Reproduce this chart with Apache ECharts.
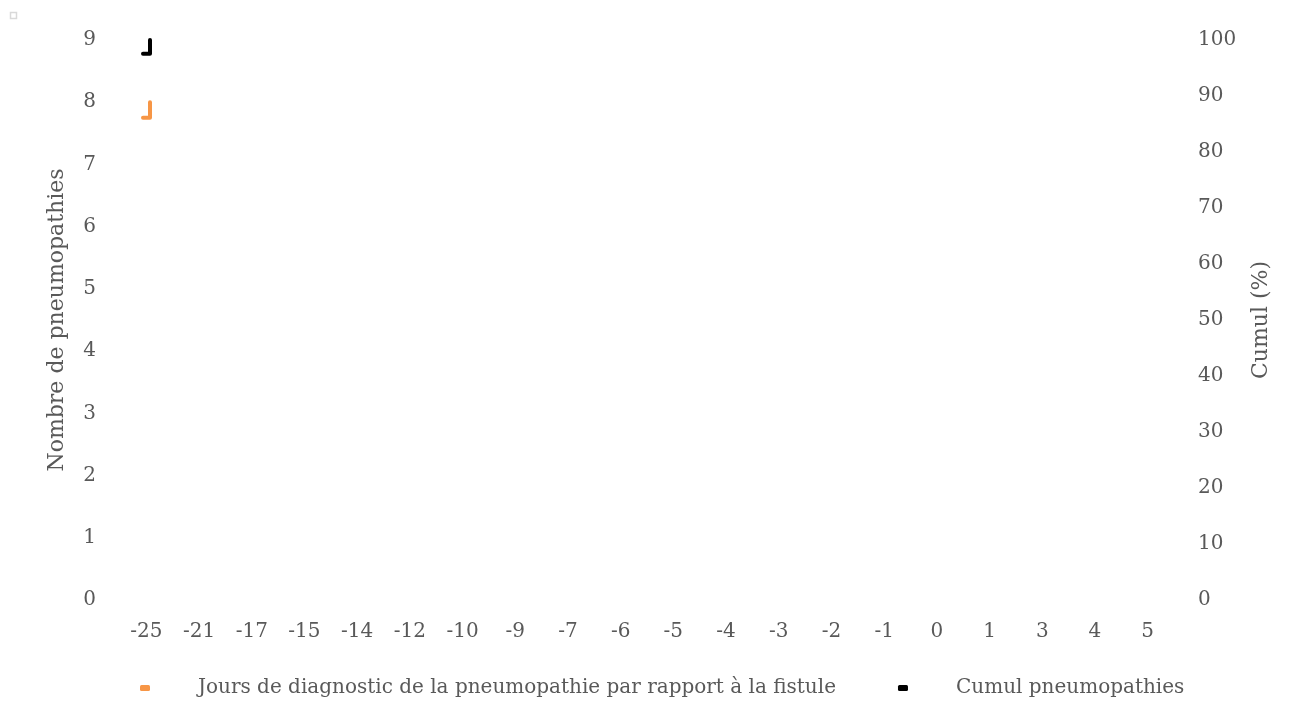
<!DOCTYPE html>
<html>
<head>
<meta charset="utf-8">
<script src="https://cdn.jsdelivr.net/npm/echarts@6/dist/echarts.min.js"></script>
<style>html,body{margin:0;padding:0;background:#fff;}#c{width:1294px;height:702px;}</style>
</head>
<body>
<div id="c"></div>
<script>
var categories = ['-25','-21','-17','-15','-14','-12','-10','-9','-7','-6','-5','-4','-3','-2','-1','0','1','3','4','5'];
var leftTicks = [0, 9, 1];     // min, max, interval
var rightTicks = [0, 100, 10]; // min, max, interval
// The series are drawn collapsed in the top-left corner of the reference (mini plot)
var joursSeries = [[1, 8.0], [1, 7.75], [0, 7.75]];
var cumulSeries = [[1, 9.0], [1, 8.78], [0, 8.78]];
var nameJours = 'Jours de diagnostic de la pneumopathie par rapport à la fistule';
var nameCumul = 'Cumul pneumopathies';

var FONT = 'DejaVu Serif';
var GREY = '#595959';
var chart = echarts.init(document.getElementById('c'));
chart.setOption({
  animation: false,
  textStyle: {fontFamily: FONT},
  grid: [
    {left: 120, right: 120, top: 40, bottom: 102},
    {left: 143, width: 7, top: 40, bottom: 102}
  ],
  xAxis: [
    {type: 'category', gridIndex: 0, data: categories,
     axisLine: {show: false}, axisTick: {show: false},
     axisLabel: {color: GREY, fontSize: 20, fontFamily: FONT, margin: 22, interval: 0}},
    {type: 'value', gridIndex: 1, min: 0, max: 1, show: false}
  ],
  yAxis: [
    {type: 'value', gridIndex: 0, min: leftTicks[0], max: leftTicks[1], interval: leftTicks[2],
     name: 'Nombre de pneumopathies', nameLocation: 'middle', nameGap: 52,
     nameTextStyle: {color: GREY, fontSize: 22, fontFamily: FONT},
     axisLine: {show: false}, axisTick: {show: false}, splitLine: {show: false},
     axisLabel: {color: GREY, fontSize: 20, fontFamily: FONT, margin: 24}},
    {type: 'value', gridIndex: 0, position: 'right', min: rightTicks[0], max: rightTicks[1], interval: rightTicks[2],
     name: 'Cumul (%)', nameLocation: 'middle', nameGap: 76,
     nameTextStyle: {color: GREY, fontSize: 22, fontFamily: FONT},
     axisLine: {show: false}, axisTick: {show: false}, splitLine: {show: false},
     axisLabel: {color: GREY, fontSize: 20, fontFamily: FONT, margin: 24}},
    {type: 'value', gridIndex: 1, min: leftTicks[0], max: leftTicks[1], show: false}
  ],
  legend: {
    left: 135, top: 673, itemGap: 62, itemWidth: 10, itemHeight: 6, icon: 'roundRect',
    textStyle: {color: GREY, fontSize: 20, fontFamily: FONT, padding: [0, 0, 0, 43]},
    data: [nameJours, nameCumul]
  },
  graphic: [
    {type: 'rect', shape: {x: 10.5, y: 12.5, width: 6, height: 6},
     style: {fill: '#fff', stroke: '#d9d9d9', lineWidth: 1.5}}
  ],
  series: [
    {name: nameJours, type: 'line', xAxisIndex: 1, yAxisIndex: 2, data: joursSeries,
     showSymbol: false, color: '#F79646',
     lineStyle: {width: 4, cap: 'round', join: 'round', color: '#F79646'}},
    {name: nameCumul, type: 'line', xAxisIndex: 1, yAxisIndex: 2, data: cumulSeries,
     showSymbol: false, color: '#000000',
     lineStyle: {width: 4, cap: 'round', join: 'round', color: '#000000'}}
  ]
});
</script>
</body>
</html>
